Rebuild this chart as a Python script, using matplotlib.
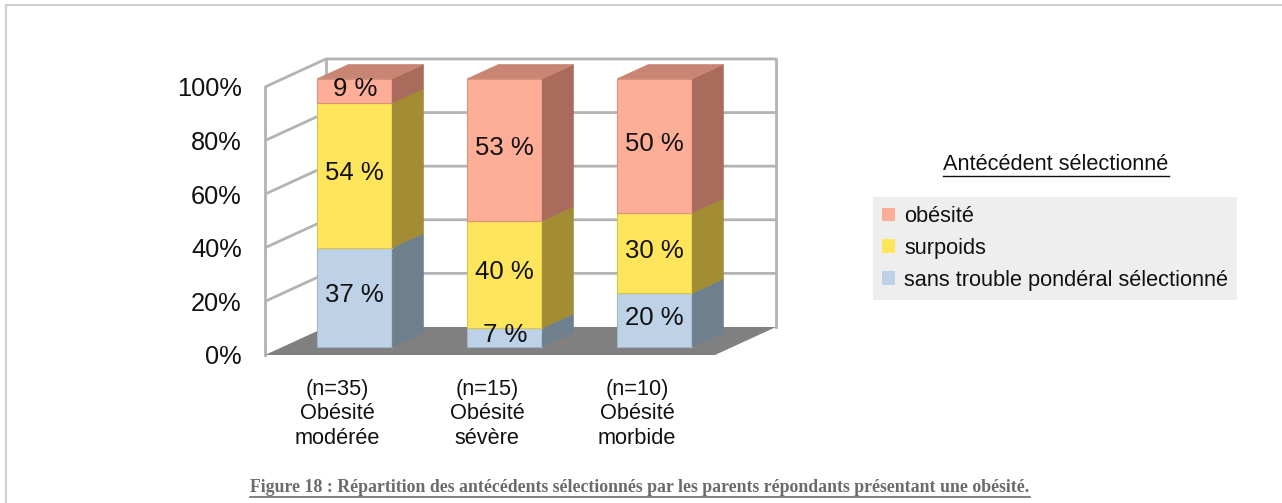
"""
Stacked 3D-look bar chart: antecedents selected by obese parents.
"""

import matplotlib.pyplot as plt
from matplotlib.patches import Polygon, Patch
from matplotlib.lines import Line2D

SAVE_PATH = "out.png"

# ----- data -----
categories = [
    "(n=35)\nObésité\nmodérée",
    "(n=15)\nObésité\nsévère",
    "(n=10)\nObésité\nmorbide",
]
series_names = ["sans trouble pondéral sélectionné", "surpoids", "obésité"]
sans_trouble = [37, 7, 20]
surpoids = [54, 40, 30]
obesite = [9, 53, 50]
y_ticks = [0, 20, 40, 60, 80, 100]
legend_title = "Antécédent sélectionné"
caption = ("Figure 18 : Répartition des antécédents sélectionnés par les "
           "parents répondants présentant une obésité.")

# ----- style -----
FRONT = {"sans": "#bdd1e7", "surp": "#fee55b", "obes": "#feae96"}
SIDE = {"sans": "#6e7f8e", "surp": "#a28c34", "obes": "#a96b5c"}
TOP = {"sans": "#8da0b3", "surp": "#c9b343", "obes": "#c98573"}
EDGE = {"sans": "#a3b4c6", "surp": "#d9c44c", "obes": "#d99480"}
GRID = "#b3b3b3"
FLOOR = "#808080"

# projection of depth (z from 0 front to 1 back)
DX = 0.407      # category units per full depth
DY = 10.45      # percent units per full depth
BAR_W = 0.5
Z_FRONT = 0.29
Z_BACK = 0.80
X_LEFT = -0.48
X_RIGHT = 2.52

FONT = ["Liberation Sans", "DejaVu Sans"]


def underline(fig, txt, color, lw, gap=2):
    fig.canvas.draw()
    bb = txt.get_window_extent()
    inv = fig.transFigure.inverted()
    (x0, y0), (x1, _) = inv.transform([(bb.x0, bb.y0 - gap), (bb.x1, bb.y0)])
    fig.add_artist(Line2D([x0, x1], [y0, y0], color=color, lw=lw,
                          transform=fig.transFigure))


def draw_walls(ax):
    xl, xr = X_LEFT, X_RIGHT
    # floor
    ax.add_patch(Polygon(
        [(xl, 0), (xr, 0), (xr + DX, DY), (xl + DX, DY)],
        closed=True, facecolor=FLOOR, edgecolor="none", zorder=1))
    # grid lines on left and back walls
    for v in y_ticks:
        if v == 0:
            continue
        ax.plot([xl, xl + DX, xr + DX], [v, v + DY, v + DY],
                color=GRID, lw=2, solid_capstyle="butt", zorder=0.5)
    ax.plot([xl, xl], [0, 100], color=GRID, lw=2, zorder=0.5)
    ax.plot([xl + DX, xl + DX], [DY, 100 + DY], color=GRID, lw=2, zorder=0.5)
    ax.plot([xr + DX, xr + DX], [DY, 100 + DY], color=GRID, lw=2, zorder=0.5)


def draw_bar(ax, i, values, keys):
    depth = Z_BACK - Z_FRONT
    x0 = i - BAR_W / 2 + Z_FRONT * DX
    x1 = i + BAR_W / 2 + Z_FRONT * DX
    base = Z_FRONT * DY
    bottom = 0
    for val, key in zip(values, keys):
        v0 = base + bottom
        v1 = base + bottom + val
        ax.add_patch(Polygon(
            [(x0, v0), (x1, v0), (x1, v1), (x0, v1)], closed=True,
            facecolor=FRONT[key], edgecolor=EDGE[key], lw=0.8, zorder=3))
        ax.add_patch(Polygon(
            [(x1, v0), (x1 + depth * DX, v0 + depth * DY),
             (x1 + depth * DX, v1 + depth * DY), (x1, v1)], closed=True,
            facecolor=SIDE[key], edgecolor=SIDE[key], lw=0.5, zorder=3))
        ax.text((x0 + x1) / 2, (v0 + v1) / 2 + 0.8, f"{val} %",
                ha="center", va="center", fontsize=18.5, family=FONT,
                color="#111111", zorder=5)
        bottom += val
    top_key = keys[-1]
    v = base + bottom
    ax.add_patch(Polygon(
        [(x0, v), (x1, v), (x1 + depth * DX, v + depth * DY),
         (x0 + depth * DX, v + depth * DY)], closed=True,
        facecolor=TOP[top_key], edgecolor=TOP[top_key], lw=0.5, zorder=3))


def plot_chart():
    fig = plt.figure(figsize=(12.82, 5.03), dpi=100, facecolor="white")

    # page border
    fig.add_artist(Line2D([6 / 1282, 1], [1 - 5 / 503, 1 - 5 / 503],
                          color="#d0d0d0", lw=1.5, transform=fig.transFigure))
    fig.add_artist(Line2D([6 / 1282, 6 / 1282], [0, 1 - 5 / 503],
                          color="#d0d0d0", lw=1.5, transform=fig.transFigure))

    ax = fig.add_axes([250 / 1282, 1 - 368.4 / 503, 550 / 1282, 313.6 / 503])
    ax.set_xlim(-0.58, 3.0867)
    ax.set_ylim(-5, 112)
    for s in ax.spines.values():
        s.set_visible(False)
    ax.set_facecolor("none")

    draw_walls(ax)

    keys = ["sans", "surp", "obes"]
    for i in range(len(categories)):
        vals = [sans_trouble[i], surpoids[i], obesite[i]]
        draw_bar(ax, i, vals, keys)
        ax.text(i, -9.0, categories[i], ha="center", va="top",
                fontsize=15.7, family=FONT, linespacing=1.2,
                color="#111111")

    ax.set_xticks([])
    ax.set_yticks(y_ticks)
    ax.set_yticklabels([f"{v}%" for v in y_ticks], fontsize=18.3,
                       family=FONT, color="#111111")
    ax.tick_params(axis="y", length=0, pad=6)

    # legend
    handles = [Patch(facecolor=FRONT[k], edgecolor="none")
               for k in ["obes", "surp", "sans"]]
    labels = [series_names[2], series_names[1], series_names[0]]
    leg = fig.legend(
        handles, labels, loc="upper left",
        bbox_to_anchor=(873 / 1282, 1 - 197 / 503),
        borderaxespad=0, frameon=True, fancybox=False,
        facecolor="#eeeeee", edgecolor="none", framealpha=1,
        prop={"family": FONT, "size": 15.7},
        handlelength=0.6, handleheight=0.6, handletextpad=0.4,
        labelspacing=0.5, borderpad=0.42
    )
    for t in leg.get_texts():
        t.set_color("#111111")

    title = fig.text(1056 / 1282, 1 - 164 / 503, legend_title,
                     ha="center", va="center", fontsize=15.7, family=FONT,
                     color="#111111")

    cap = fig.text(640 / 1282, 1 - 487 / 503, caption, ha="center",
                   va="center", fontsize=12.8, fontweight="bold",
                   family=["Liberation Serif", "DejaVu Serif"],
                   color="#6b6b6b")

    underline(fig, title, "#111111", 1.0, gap=1)
    underline(fig, cap, "#6b6b6b", 1.2, gap=1)

    fig.savefig(SAVE_PATH, dpi=100, facecolor="white")
    plt.close(fig)


if __name__ == "__main__":
    plot_chart()
